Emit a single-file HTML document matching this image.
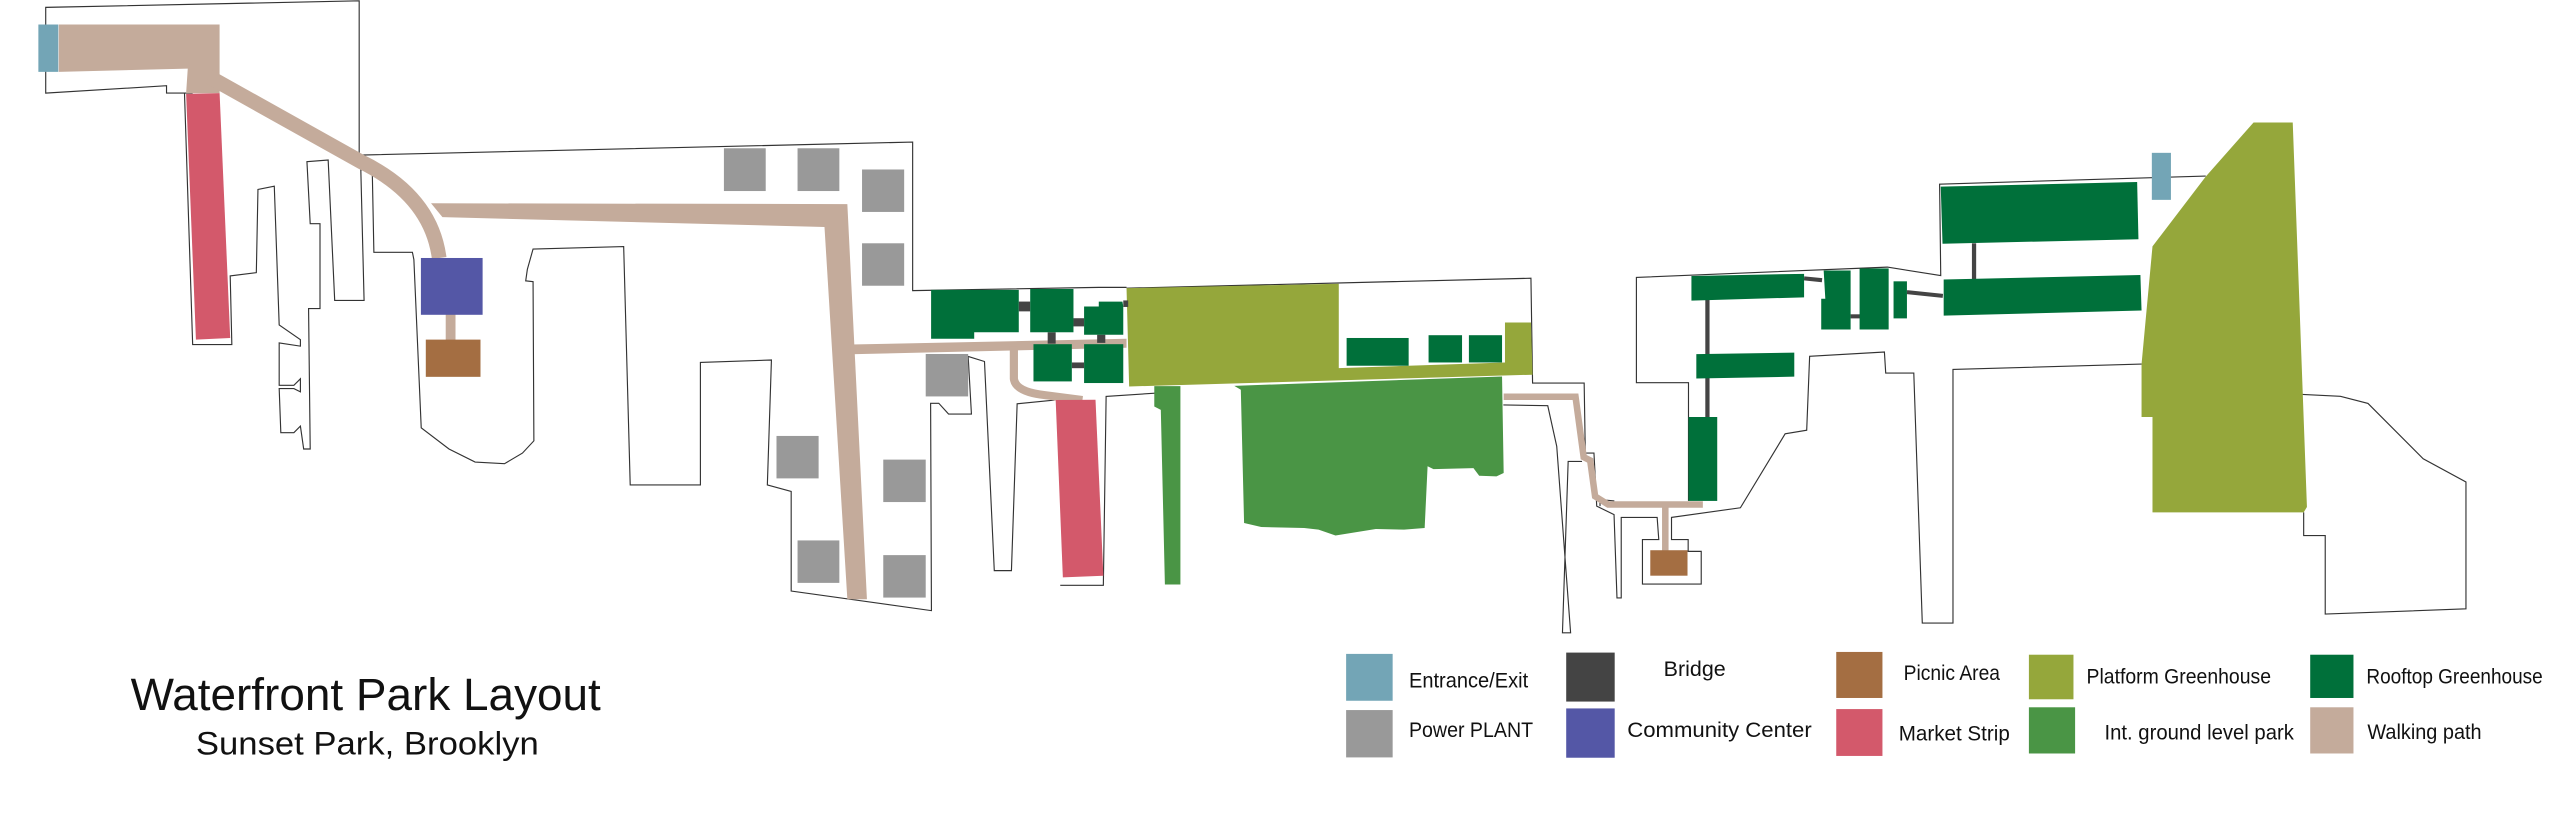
<!DOCTYPE html>
<html><head><meta charset="utf-8"><style>
html,body{margin:0;padding:0;background:#fff;}
svg{display:block;}
text{font-family:"Liberation Sans",sans-serif;fill:#111;}
</style></head><body>
<svg width="2560" height="818" viewBox="0 0 1568 501" xmlns="http://www.w3.org/2000/svg">
<g fill="none" stroke="#333" stroke-width="0.7">
<!-- left top piece -->
<polyline points="118,57 102,57 102,52.5 28,57 28,4.5 220,0.5 220,95 559,87 559,178 673,176 690,176"/>
<polyline points="113,57 118,211 142,211 141,169 157,167 158,116 168,114 171,199 184,208 184,212 171,210 171,236 180,236 184,232 184,240 180,238 171,238 172,265 180,265 184,261 186,275 190,275 189,189 196,189 196,137 190,137 188,99 201,98 205,184 223,184 221,104 228,104 229,154.5 252.6,154.5 253.5,159 258,262 275,275 291,283 309,284 320,277.5 327,270 326.5,172.5 322,172 323,165 326.5,152.5 382,151 386,297 429,297 429,222 472.5,220.5 470,297 484.6,301 484.6,362 570.5,374 570,247 575,247 581,253.6 595,253.6 593,218.3 603,221.4 609,349.5 619.5,349.5 623,247.3 646,245"/>
<polyline points="649.4,358.5 675.8,358.5 677.5,242.8 707.4,240.8"/>
<!-- middle top -->
<polyline points="690,176.5 937.7,170.4 938.7,234.6 970.3,234.6 971,277.5 976.3,277.5 978,310 988.6,315.2 990.4,366.2 993,366.2 993,316.9 1015,316.9 1016,330.5 1006,330.5 1006,357.7 1042,357.7 1042,337.7 1034,337.7 1034,330.5 1023.8,330.5 1023.8,316.9 1066,311 1093.4,265.7 1106.6,263.5 1108.4,218.2 1154.2,215.6 1155,228.5 1172.2,228.5 1177.4,381.6 1196.2,381.6 1196.2,226.3 1311.7,223"/>
<polyline points="920.8,248 948,248.5 953.5,273.4 962,387.6 957,387.6 960.5,282.6 969,282.6"/>
<polyline points="988.8,306.8 980,306 980,310"/>
<polyline points="1034.2,306.8 1034.2,234.4 1002.3,234.4 1002.3,169.9 1156,163.6 1188.7,168.8 1188,112.8 1351,107.8"/>
<polyline points="1410.3,241.6 1433.5,242.7 1450.4,247.1 1484.2,281 1510.4,295.2 1510.4,372.9 1424.2,376.1 1424.2,328 1411,328 1411,313.8"/>
</g>
<!-- walking paths -->
<g fill="#c4ab9b">
<polygon points="36,15 134.5,15 134.5,57 114,57 115,42 36,44"/>
<polygon points="264,124.5 519,125 531,367 519,367 505,139 271,133"/>
<polygon points="521,211 690,207.5 690,213 521,217"/>
<rect x="273" y="190" width="6" height="20"/>
</g>
<g fill="none" stroke="#c4ab9b">
<path d="M128,47 L221,99 Q264,120 269,158" stroke-width="9"/>
<path d="M621,212 L621,232 Q622,240 640,242 L663,245" stroke-width="5"/>
<path d="M921,243 L965,243 L970,280 L974,282 L977,304 L985,309 L1043,309" stroke-width="4"/>
<path d="M1020,309 L1020,338" stroke-width="4"/>
</g>
<rect x="23.5" y="15" width="12.2" height="29" fill="#73a5b6"/>
<rect x="1318" y="93.6" width="11.7" height="28.8" fill="#73a5b6"/>
<!-- market strips -->
<polygon points="114,57.5 134.5,57 141,207 120,208" fill="#d3596b"/>
<polygon points="646.6,245 671,244.8 675.8,352.6 651,353.6" fill="#d3596b"/>
<!-- community & picnic -->
<rect x="257.8" y="158" width="37.8" height="34.8" fill="#5457a6"/>
<rect x="260.8" y="208" width="33.5" height="22.8" fill="#a46e42"/>
<rect x="1010.8" y="337" width="22.8" height="15.6" fill="#a46e42"/>
<!-- power plants -->
<g fill="#999">
<rect x="443.4" y="90.8" width="25.6" height="26.2"/>
<rect x="488.5" y="90.8" width="25.6" height="26.2"/>
<rect x="528" y="103.8" width="25.8" height="26"/>
<rect x="528" y="149" width="25.8" height="26"/>
<rect x="567" y="216.8" width="26" height="26"/>
<rect x="475.6" y="267" width="25.8" height="26"/>
<rect x="541" y="281.5" width="26" height="26"/>
<rect x="488.5" y="331" width="25.6" height="26"/>
<rect x="541" y="340" width="26" height="26"/>
</g>
<!-- platform greenhouses -->
<polygon points="690,176.5 820,173.8 820,225.5 921.8,222 921.8,197.5 937.7,197.5 938.7,229.5 691.6,236.7" fill="#95a73b"/>
<polygon points="1380.3,75 1404.3,75 1413,310.5 1411,313.8 1318.4,313.8 1318.4,255.4 1311.7,255.4 1311.7,223 1318.4,150.9 1351,108.2" fill="#95a73b"/>
<!-- int ground park -->
<g fill="#4a9545">
<polygon points="707,236.5 723,236.5 723,358 713.5,358 711,251 707,249"/>
<polygon points="756,236.3 920,230.6 921,289.7 916.6,291.8 906,291.4 902.5,286.7 878,287.3 874.4,285.6 872.6,323.4 860,324.4 842.7,324 818,328 807.6,324.4 798.8,323.4 772.5,322.8 762,320.3 760,238.7"/>
</g>
<!-- bridges -->
<g fill="#444">
<rect x="624" y="184.7" width="7" height="6"/>
<rect x="657.5" y="194.9" width="6.5" height="5"/>
<rect x="641.7" y="203.5" width="4.9" height="7"/>
<rect x="656.5" y="222" width="7.5" height="3.5"/>
<rect x="672" y="205" width="5" height="5"/>
<rect x="688" y="184" width="3" height="4"/>
<rect x="1044.5" y="183.7" width="2.6" height="72"/>
<rect x="1207.8" y="149" width="2.6" height="22"/>
<rect x="1133.5" y="192.5" width="6" height="2.5"/>
</g>
<g stroke="#444" stroke-width="2.5">
<line x1="1168" y1="178.9" x2="1190" y2="181.2"/>
<line x1="1105" y1="170.5" x2="1116" y2="171.6"/>
</g>
<!-- rooftop greenhouses -->
<g fill="#00703a">
<polygon points="570.3,177.5 624,177.5 624,203.5 596.7,203.5 596.7,207.5 570.3,207.5"/>
<rect x="631" y="177" width="26.5" height="26.5"/>
<polygon points="673,184.7 687.5,184.7 688,187.7 688,205 664,205 664,187.7 673,187.7"/>
<rect x="633" y="210.8" width="23.5" height="22.8"/>
<rect x="664" y="210.8" width="24" height="23.8"/>
<rect x="824.8" y="207" width="38" height="17"/>
<rect x="875" y="205.3" width="20.5" height="16.7"/>
<rect x="899.7" y="205.3" width="20.3" height="16.7"/>
<polygon points="1188.7,114.3 1309,111.5 1309.8,146.5 1189.8,149.3"/>
<polygon points="1190.5,171.2 1311,168.4 1311.7,190.2 1190.5,193.3"/>
<polygon points="1036,169 1105,167.7 1105,182.1 1036,184.1"/>
<polygon points="1117,165.7 1133.5,165.7 1133.5,201.8 1115.5,201.8 1115.5,183 1118,183"/>
<rect x="1139" y="164.4" width="17.8" height="37.4"/>
<rect x="1159.8" y="172.3" width="8.2" height="22.7"/>
<polygon points="1039,216.9 1099,216 1099,230.7 1039,231.8"/>
<rect x="1034.2" y="255.4" width="17.6" height="51.4"/>
</g>
<!-- title -->
<text x="80" y="435" font-size="28" textLength="288" lengthAdjust="spacingAndGlyphs">Waterfront Park Layout</text>
<text x="120" y="462" font-size="20" textLength="210" lengthAdjust="spacingAndGlyphs">Sunset Park, Brooklyn</text>
<!-- legend -->
<rect x="824.5" y="400.5" width="28.5" height="28.7" fill="#73a5b6"/>
<rect x="824.5" y="434.9" width="28.5" height="29" fill="#999"/>
<rect x="959.3" y="399.7" width="29.7" height="30" fill="#444"/>
<rect x="959.3" y="433.9" width="29.7" height="30.2" fill="#5457a6"/>
<rect x="1124.7" y="399.3" width="28.3" height="28.2" fill="#a46e42"/>
<rect x="1124.7" y="434.3" width="28.3" height="28.7" fill="#d3596b"/>
<rect x="1242.7" y="401" width="27.3" height="27.3" fill="#95a73b"/>
<rect x="1242.7" y="433.2" width="28.3" height="28.3" fill="#4a9545"/>
<rect x="1415" y="401" width="26.5" height="26.5" fill="#00703a"/>
<rect x="1415" y="433.2" width="26.5" height="28.3" fill="#c4ab9b"/>
<g font-size="13">
<text x="863" y="421" textLength="73" lengthAdjust="spacingAndGlyphs">Entrance/Exit</text>
<text x="863" y="451.5" textLength="76" lengthAdjust="spacingAndGlyphs">Power PLANT</text>
<text x="1019" y="414" textLength="38" lengthAdjust="spacingAndGlyphs">Bridge</text>
<text x="996.7" y="451.5" textLength="113" lengthAdjust="spacingAndGlyphs">Community Center</text>
<text x="1166" y="416.5" textLength="59" lengthAdjust="spacingAndGlyphs">Picnic Area</text>
<text x="1163" y="453.5" textLength="68" lengthAdjust="spacingAndGlyphs">Market Strip</text>
<text x="1278" y="418.5" textLength="113" lengthAdjust="spacingAndGlyphs">Platform Greenhouse</text>
<text x="1289" y="453" textLength="116" lengthAdjust="spacingAndGlyphs">Int. ground level park</text>
<text x="1449.4" y="418.5" textLength="108" lengthAdjust="spacingAndGlyphs">Rooftop Greenhouse</text>
<text x="1450" y="452.5" textLength="70" lengthAdjust="spacingAndGlyphs">Walking path</text>
</g>
</svg>
</body></html>
